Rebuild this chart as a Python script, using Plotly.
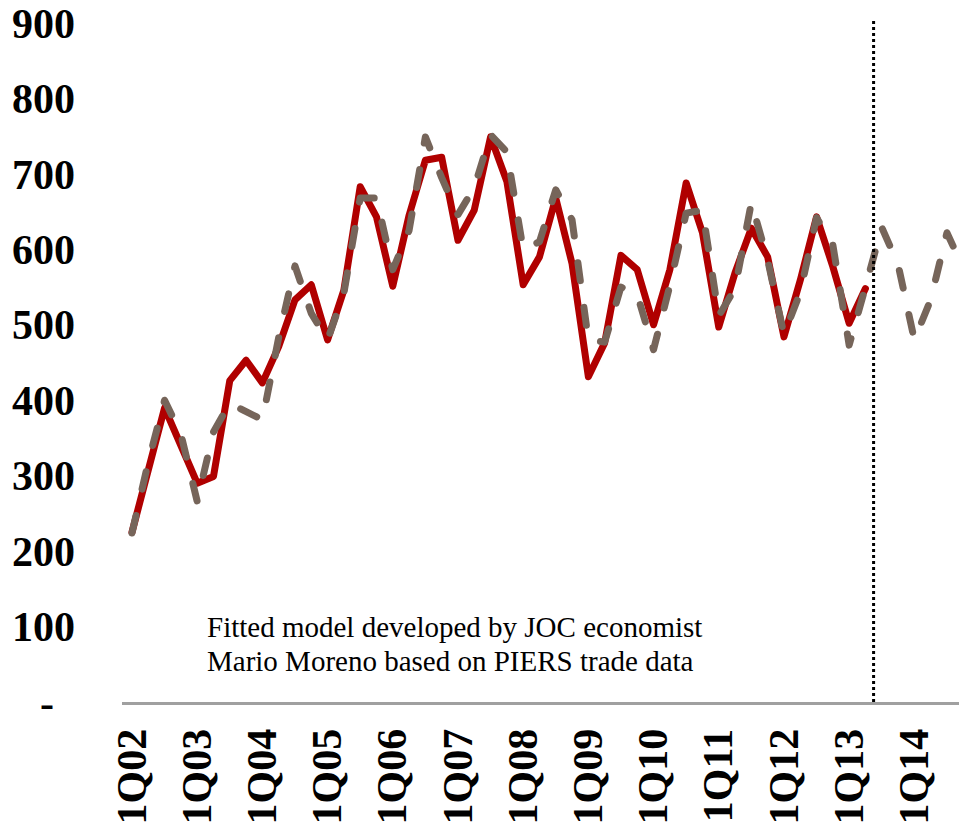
import plotly.graph_objects as go

# Quarterly volumes, 1Q02 onwards (one value per quarter)
ACTUAL = [
    225, 308, 390, 340,   # 2002
    290, 299, 426, 453,   # 2003
    423, 471, 533, 553,   # 2004
    480, 546, 683, 643,   # 2005
    551, 645, 718, 722,   # 2006
    612, 652, 749, 690,   # 2007
    553, 590, 668, 581,   # 2008
    431, 476, 592, 573,   # 2009
    500, 573, 688, 622,   # 2010
    497, 569, 628, 590,   # 2011
    484, 559, 643, 577,   # 2012
    502, 548,             # 2013 (through 2Q)
]

FITTED = [
    224, 318, 400, 355,   # 2002
    266, 358, 396, 385,   # 2003
    374, 483, 578, 515,   # 2004
    480, 542, 668, 668,   # 2005
    573, 625, 749, 695,   # 2006
    646, 682, 752, 729,   # 2007
    600, 610, 679, 639,   # 2008
    480, 477, 550, 540,   # 2009
    467, 552, 648, 652,   # 2010
    512, 548, 662, 586,   # 2011
    487, 543, 642, 606,   # 2012
    473, 550, 629, 580,   # 2013
    480, 533, 622, 575,   # 2014
]

TICK_POS = [0, 4, 8, 12, 16, 20, 24, 28, 32, 36, 40, 44, 48]
TICK_LABELS = ["1Q02", "1Q03", "1Q04", "1Q05", "1Q06", "1Q07", "1Q08",
               "1Q09", "1Q10", "1Q11", "1Q12", "1Q13", "1Q14"]

Y_TICKS = [0, 100, 200, 300, 400, 500, 600, 700, 800, 900]
Y_LABELS = ["-\u00a0\u00a0", "100", "200", "300", "400", "500", "600",
            "700", "800", "900"]

FORECAST_START = 45.5  # boundary between 2Q13 and 3Q13

NOTE_LINES = ["Fitted model developed by JOC economist",
              "Mario Moreno based on PIERS trade data"]

SERIF = "Liberation Serif, Times New Roman, serif"
RED = "#B00000"
TAUPE = "#76655A"

fig = go.Figure()

fig.add_trace(go.Scatter(
    x=list(range(len(ACTUAL))), y=ACTUAL, mode="lines",
    line=dict(color=RED, width=7), name="Actual", hoverinfo="skip",
))
fig.add_trace(go.Scatter(
    x=list(range(len(FITTED))), y=FITTED, mode="lines",
    line=dict(color=TAUPE, width=7, dash="18px,27px"), name="Fitted",
    hoverinfo="skip",
))

# forecast boundary
fig.add_shape(type="line", xref="x", yref="paper",
              x0=FORECAST_START, x1=FORECAST_START, y0=0, y1=1.003,
              line=dict(color="black", width=3, dash="3px,3px"))

# two-line note
for text, yv in zip(NOTE_LINES, [99.5, 54.5]):
    fig.add_annotation(text=text, xref="paper", yref="y",
                       x=(205 - 122) / 837, y=yv, xanchor="left",
                       yanchor="middle", showarrow=False,
                       font=dict(family=SERIF, size=29, color="black"))

fig.update_layout(
    width=959, height=825,
    margin=dict(l=122, r=0, t=23, b=123, pad=0, autoexpand=False),
    paper_bgcolor="white", plot_bgcolor="white",
    showlegend=False,
)

fig.update_xaxes(
    range=[-0.613, 50.74], automargin=False,
    tickvals=TICK_POS, ticktext=TICK_LABELS,
    tickangle=-90, ticks="", ticklabelstandoff=7,
    tickfont=dict(family=SERIF, size=42, color="black", weight="bold"),
    showgrid=False, zeroline=False,
    showline=True, linecolor="#A0A0A0", linewidth=3,
)
fig.update_yaxes(
    range=[0, 900], automargin=False,
    tickvals=Y_TICKS, ticktext=Y_LABELS,
    ticks="", ticklabelstandoff=46,
    tickfont=dict(family=SERIF, size=42, color="black", weight="bold"),
    showgrid=False, zeroline=False, showline=False,
)

ROUND_CAPS = (
    "var s=document.createElement('style');"
    "s.textContent='.js-line{stroke-linecap:round;stroke-linejoin:round;}';"
    "document.head.appendChild(s);"
)
fig.write_html("out.html", post_script=ROUND_CAPS)
